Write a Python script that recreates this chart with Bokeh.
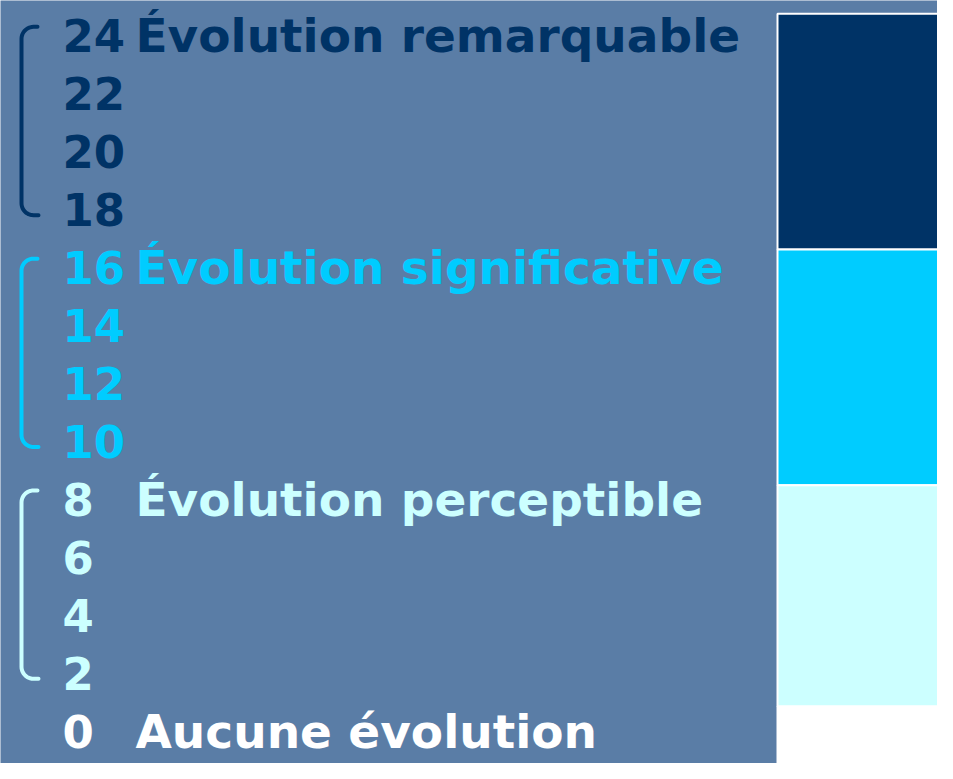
import numpy as np
from bokeh.plotting import figure
from bokeh.models import Range1d, ColumnDataSource
from bokeh.core.properties import value
from bokeh.embed import file_html
from bokeh.resources import INLINE

# ---- data ----
scores = [24, 22, 20, 18, 16, 14, 12, 10, 8, 6, 4, 2, 0]
score_group = [0, 0, 0, 0, 1, 1, 1, 1, 2, 2, 2, 2, 3]
group_labels = ["Évolution remarquable", "Évolution significative",
                "Évolution perceptible", "Aucune évolution"]
group_label_score = [24, 16, 8, 0]
group_colors = ["#003366", "#00ccff", "#ccffff", "#ffffff"]
band_top = [25.4, 17.27, 9.13, 1.49]
band_bottom = [17.27, 9.13, 1.49, -1.0]

BG = "#5a7da6"
W, H = 937, 763
y0, y1 = -0.473, 25.86
k = H / (y1 - y0)  # pixels per score unit
TEXT_SHIFT = 18.5 / k  # layout correction for the text baseline

p = figure(width=W, height=H, output_backend="svg", toolbar_location=None,
           x_range=Range1d(0, W), y_range=Range1d(y0, y1),
           x_axis_type=None, y_axis_type=None, min_border=0,
           background_fill_color=BG, border_fill_color=BG, outline_line_color=None)
p.grid.visible = False

# colour bands on the right
p.quad(left=777, right=1000, top=band_top, bottom=band_bottom,
       fill_color=group_colors, line_color="white", line_width=2)

# score numbers
num_src = ColumnDataSource(dict(y=[s + TEXT_SHIFT for s in scores],
                                t=[str(s) for s in scores],
                                c=[group_colors[g] for g in score_group]))
p.text(x=62, y="y", text="t", text_color="c", source=num_src,
       text_font=value("DejaVu Sans"), text_font_style="bold",
       text_font_size="45px", text_baseline="alphabetic", text_align="left")

# group labels
lab_src = ColumnDataSource(dict(y=[s + TEXT_SHIFT for s in group_label_score],
                                t=group_labels, c=group_colors))
p.text(x=135, y="y", text="t", text_color="c", source=lab_src,
       text_font=value("DejaVu Sans"), text_font_style="bold",
       text_font_size="47px", text_baseline="alphabetic", text_align="left")

# brackets for the first three groups
for g in range(3):
    vals = [s for s, gg in zip(scores, score_group) if gg == g]
    top_v = max(vals) + 0.95
    bot_v = min(vals) + 0.45
    r = 12.0
    xv = 21.0
    th1 = np.linspace(np.pi / 2, np.pi, 12)
    th2 = np.linspace(np.pi, 1.5 * np.pi, 12)
    cx = xv + r
    xs = [37.0] + list(cx + r * np.cos(th1)) + list(cx + r * np.cos(th2)) + [38.0]
    ys = ([top_v] + list(top_v - r / k + (r / k) * np.sin(th1))
          + list(bot_v + r / k + (r / k) * np.sin(th2)) + [bot_v])
    p.line(xs, ys, line_color=group_colors[g], line_width=4, line_cap="round")

open("out.html", "w").write(file_html(p, INLINE))
